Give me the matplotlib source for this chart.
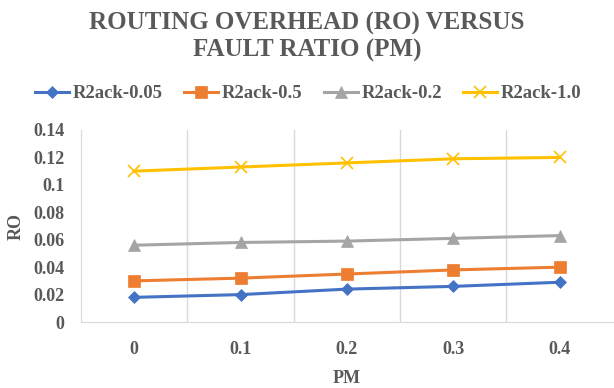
import matplotlib.pyplot as plt
import numpy as np

pm = ['0', '0.1', '0.2', '0.3', '0.4']
series_names = ['R2ack-0.05', 'R2ack-0.5', 'R2ack-0.2', 'R2ack-1.0']
ro_005 = [0.018, 0.020, 0.024, 0.026, 0.029]
ro_05 = [0.030, 0.032, 0.035, 0.038, 0.040]
ro_02 = [0.056, 0.058, 0.059, 0.061, 0.063]
ro_10 = [0.110, 0.113, 0.116, 0.119, 0.120]

colors = ['#4472C4', '#ED7D31', '#A5A5A5', '#FFC000']
markers = ['D', 's', '^', 'x']
sizes = [6.5, 8, 8, 8]
txt = '#595959'

plt.rcParams['font.family'] = ['Liberation Serif', 'DejaVu Serif']
plt.rcParams['font.weight'] = 'bold'

fig = plt.figure(figsize=(6.14, 3.88), dpi=100)
ax = fig.add_axes([0.132, 0.170, 0.866, 0.495])

x = np.arange(len(pm))
for vals, name, c, m, s in zip([ro_005, ro_05, ro_02, ro_10], series_names, colors, markers, sizes):
    ax.plot(x, vals, color=c, marker=m, markersize=s, linewidth=2.2, label=name,
            markeredgewidth=1.2 if m == 'x' else 0.5)

ax.set_xlim(-0.5, len(pm) - 0.5)
ax.set_ylim(0, 0.14)
ax.set_xticks(x)
ax.set_xticklabels(pm)
ax.set_yticks(np.arange(0, 0.141, 0.02))
ax.set_yticklabels(['0', '0.02', '0.04', '0.06', '0.08', '0.1', '0.12', '0.14'])
ax.tick_params(length=0, labelsize=13, colors=txt)
ax.tick_params(axis='y', pad=12)
ax.tick_params(axis='x', pad=14)

for b in np.arange(0.5, len(pm) - 0.5, 1):
    ax.axvline(b, color='#D9D9D9', linewidth=1, zorder=0)

for sp in ['top', 'right']:
    ax.spines[sp].set_visible(False)
for sp in ['left', 'bottom']:
    ax.spines[sp].set_color('#D9D9D9')

ax.set_xlabel('PM', fontsize=13, color=txt, fontweight='bold', labelpad=8)
ax.set_ylabel('RO', fontsize=13, color=txt, fontweight='bold', labelpad=6)

fig.text(0.5, 0.905, 'ROUTING OVERHEAD (RO) VERSUS\nFAULT RATIO (PM)', ha='center', va='center',
         fontsize=18, color=txt, linespacing=1.2, fontweight='bold')

fig.legend(loc='center', bbox_to_anchor=(0.502, 0.758), ncol=4, frameon=False, fontsize=13.5,
           handlelength=1.8, columnspacing=1.15, handletextpad=0.2, labelcolor=txt)

fig.savefig('out.png', dpi=100)
